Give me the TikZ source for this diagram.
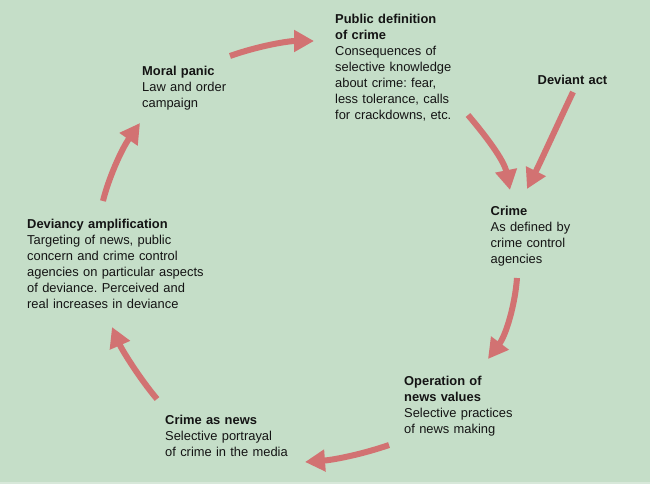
\documentclass[tikz,border=0pt]{standalone}
\usepackage{fontspec}
\setmainfont{Liberation Sans}
\usetikzlibrary{arrows.meta}
\frenchspacing
\definecolor{bggreen}{HTML}{C5DEC8}
\definecolor{bgedge}{HTML}{D8E8DA}
\definecolor{arrowred}{HTML}{D27272}
\definecolor{txt}{HTML}{141414}
\tikzset{
  label/.style={anchor=base west, inner sep=0pt, text width=220pt, align=left,
    font=\fontsize{12.9}{16}\selectfont, text=txt},
  flow/.style={draw=arrowred, line width=6pt,
    -{Triangle[width=21pt,length=20pt]}},
}
\begin{document}
\begin{tikzpicture}[x=1pt,y=-1pt]
\fill[bggreen] (0,0) rectangle (650,484);
\fill[bgedge] (0,482) rectangle (650,484);
\useasboundingbox (0,0) rectangle (650,484);

\node[label] (pub) at (335,24) {\textbf{Public definition}\\\textbf{of crime}\\Consequences of\\selective knowledge\\about crime: fear,\\less tolerance, calls\\for crackdowns, etc.};
\node[label] (moral) at (142,76) {\textbf{Moral panic}\\Law and order\\campaign};
\node[label] (dev) at (537.5,85) {\textbf{Deviant act}};
\node[label] (crime) at (490.5,215) {\textbf{Crime}\\As defined by\\crime control\\agencies};
\node[label] (oper) at (404,385) {\textbf{Operation of}\\\textbf{news values}\\Selective practices\\of news making};
\node[label] (news) at (165,424) {\textbf{Crime as news}\\Selective portrayal\\of crime in the media};
\node[label] (ampl) at (27,228) {\textbf{Deviancy amplification}\\Targeting of news, public\\concern and crime control\\agencies on particular aspects\\of deviance. Perceived and\\real increases in deviance};

\coordinate (a1s) at (230,56);  \coordinate (a1e) at (314,41);
\coordinate (a2s) at (468,115); \coordinate (a2e) at (510,190);
\coordinate (a3s) at (573,92);  \coordinate (a3e) at (527,189);
\coordinate (a4s) at (517,278); \coordinate (a4e) at (488,359);
\coordinate (a5s) at (389,445); \coordinate (a5e) at (305,462);
\coordinate (a6s) at (157,399); \coordinate (a6e) at (112,327);
\coordinate (a7s) at (103,201); \coordinate (a7e) at (140,123);

\draw[flow] (a1s) .. controls (258,46) and (288,41) .. (a1e);
\draw[flow] (a2s) .. controls (485,135) and (504,160) .. (a2e);
\draw[flow] (a3s) .. controls (556,128) and (540,163) .. (a3e);
\draw[flow] (a4s) .. controls (515,305) and (506,335) .. (a4e);
\draw[flow] (a5s) .. controls (360,455) and (332,460) .. (a5e);
\draw[flow] (a6s) .. controls (140,379) and (122,350) .. (a6e);
\draw[flow] (a7s) .. controls (108,180) and (121,150) .. (a7e);
\end{tikzpicture}
\end{document}
